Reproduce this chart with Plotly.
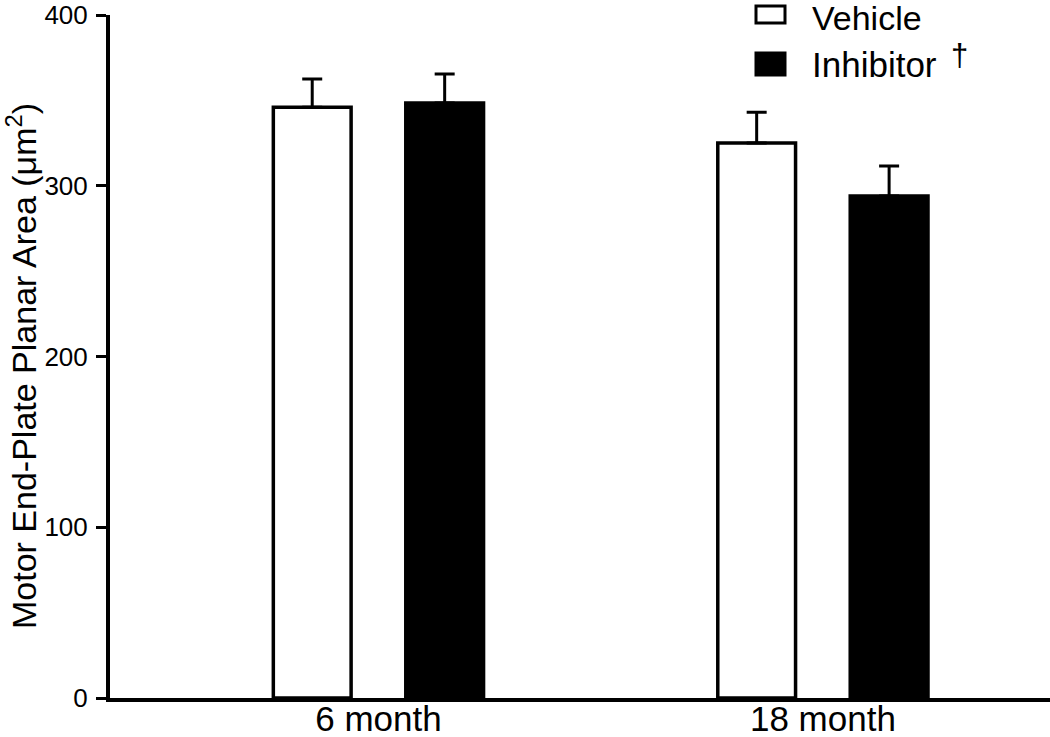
import plotly.graph_objects as go

categories = ["6 month", "18 month"]
vehicle = [346, 325]
vehicle_err = [16.5, 18]
inhibitor = [348.5, 294]
inhibitor_err = [17, 17.5]
y_ticks = [0, 100, 200, 300, 400]
y_title = "Motor End-Plate Planar Area (μm<sup>2</sup>)"

FONT = "Liberation Sans, Arial, Helvetica, sans-serif"

fig = go.Figure()
fig.add_trace(go.Bar(
    x=categories, y=vehicle, name="Vehicle",
    width=0.175, offset=-0.149 - 0.0875,
    marker=dict(color="white", line=dict(color="black", width=3.5)),
    error_y=dict(type="data", symmetric=False, array=vehicle_err, arrayminus=[0, 0],
                 color="black", thickness=3, width=10),
    showlegend=False,
))
fig.add_trace(go.Bar(
    x=categories, y=inhibitor, name="Inhibitor",
    width=0.175, offset=0.149 - 0.0875,
    marker=dict(color="black", line=dict(color="black", width=3.5)),
    error_y=dict(type="data", symmetric=False, array=inhibitor_err, arrayminus=[0, 0],
                 color="black", thickness=3, width=10),
    showlegend=False,
))

def px2paper_x(px):
    return (px - 110) / 940

def px2paper_y(py):
    return (698 - py) / 683

shapes = [
    dict(type="rect", xref="paper", yref="paper",
         x0=px2paper_x(756), x1=px2paper_x(785), y0=px2paper_y(23), y1=px2paper_y(6),
         line=dict(color="black", width=3), fillcolor="white"),
    dict(type="rect", xref="paper", yref="paper",
         x0=px2paper_x(756), x1=px2paper_x(785), y0=px2paper_y(75), y1=px2paper_y(53),
         line=dict(color="black", width=3), fillcolor="black"),
]
annotations = [
    dict(text="Vehicle", xref="paper", yref="paper", x=px2paper_x(810), y=px2paper_y(18),
         xanchor="left", yanchor="middle", showarrow=False,
         font=dict(family=FONT, size=34, color="black")),
    dict(text="Inhibitor", xref="paper", yref="paper", x=px2paper_x(810), y=px2paper_y(65),
         xanchor="left", yanchor="middle", showarrow=False,
         font=dict(family=FONT, size=35, color="black")),
    dict(text="†", xref="paper", yref="paper", x=px2paper_x(959), y=px2paper_y(55),
         xanchor="center", yanchor="middle", showarrow=False,
         font=dict(family=FONT, size=31, color="black")),
    dict(text=y_title, xref="paper", yref="paper", x=px2paper_x(21), y=px2paper_y(366),
         xanchor="center", yanchor="middle", textangle=-90, showarrow=False, borderpad=0,
         font=dict(family=FONT, size=34, color="black")),
]

fig.update_layout(
    width=1050, height=737,
    margin=dict(l=110, r=0, t=15, b=39),
    paper_bgcolor="white", plot_bgcolor="white",
    barmode="overlay",
    shapes=shapes, annotations=annotations,
    font=dict(family=FONT, color="black"),
    xaxis=dict(
        type="category", range=[-0.604, 1.511],
        showline=True, linecolor="black", linewidth=4,
        ticks="", showgrid=False, zeroline=False,
        tickfont=dict(family=FONT, size=35, color="black"),
        ticklabelstandoff=-13,
        automargin=False,
    ),
    yaxis=dict(
        range=[0, 400], tickvals=y_ticks,
        showline=True, linecolor="black", linewidth=4,
        ticks="outside", ticklen=10, tickwidth=3, tickcolor="black",
        showgrid=False, zeroline=False,
        tickfont=dict(family=FONT, size=26, color="black"),
        ticklabelstandoff=3,
        automargin=False,
    ),
)

fig.write_html("out.html", config={"displayModeBar": False},
               post_script="document.body.style.margin='0';")
